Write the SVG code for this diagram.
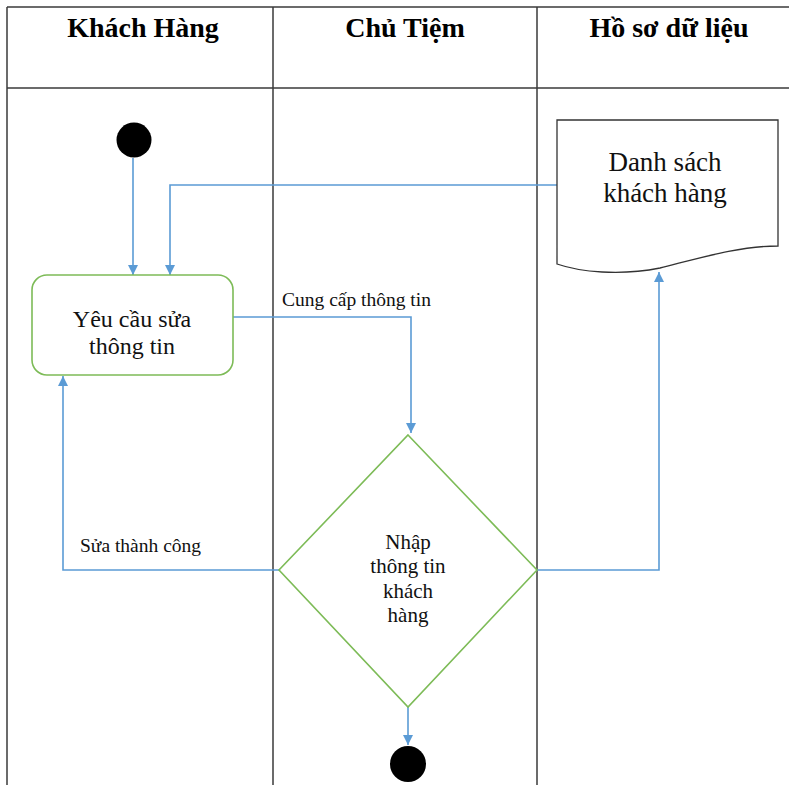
<svg xmlns="http://www.w3.org/2000/svg" width="789" height="785" viewBox="0 0 789 785">
<defs>
<style>
.lane{stroke:#3a3a3a;stroke-width:1.5;fill:none}
.hdr{font-family:"Liberation Serif",serif;font-weight:bold;font-size:28px;fill:#000;text-anchor:middle}
.lbl{font-family:"Liberation Serif",serif;font-size:24px;fill:#111;text-anchor:middle}
.dia{font-size:21px}
.doc{font-size:27px}
.small{font-family:"Liberation Serif",serif;font-size:19.5px;fill:#111}
.node{fill:#fff;stroke:#7dbb57;stroke-width:1.6}
.conn{fill:none;stroke:#5b9bd5;stroke-width:1.6}
</style>
<marker id="arr" viewBox="0 0 10 10" refX="10" refY="5" markerWidth="10" markerHeight="10" markerUnits="userSpaceOnUse" orient="auto">
<path d="M0,0 L10,5 L0,10 z" fill="#5b9bd5"/>
</marker>
</defs>
<rect width="789" height="785" fill="#fff"/>
<g id="swimlanes">
<line class="lane" x1="7" y1="7" x2="789" y2="7"/>
<line class="lane" x1="7" y1="88" x2="789" y2="88"/>
<line class="lane" x1="7" y1="7" x2="7" y2="785"/>
<line class="lane" x1="273" y1="7" x2="273" y2="785"/>
<line class="lane" x1="537" y1="7" x2="537" y2="785"/>
<text class="hdr" x="143" y="37">Khách Hàng</text>
<text class="hdr" x="405" y="37">Chủ Tiệm</text>
<text class="hdr" x="669" y="37">Hồ sơ dữ liệu</text>
</g>
<g id="connectors">
<path class="conn" d="M133,158 L133,275" marker-end="url(#arr)"/>
<path class="conn" d="M557,185 L170,185 L170,275" marker-end="url(#arr)"/>
<path class="conn" d="M233,317 L411,317 L411,433" marker-end="url(#arr)"/>
<path class="conn" d="M279,570 L63,570 L63,376" marker-end="url(#arr)"/>
<path class="conn" d="M537,570 L659,570 L659,272" marker-end="url(#arr)"/>
<path class="conn" d="M408,707 L408,745" marker-end="url(#arr)"/>
<text class="small" x="282" y="306">Cung cấp thông tin</text>
<text class="small" x="80" y="552">Sửa thành công</text>
</g>
<g id="start">
<circle cx="134" cy="140" r="17.5" fill="#000"/>
</g>
<g id="yeucau">
<rect class="node" x="32" y="275" width="201" height="100" rx="15"/>
<text class="lbl" x="132" y="327">Yêu cầu sửa</text>
<text class="lbl" x="132" y="354">thông tin</text>
</g>
<g id="nhap">
<path class="node" d="M408,435 L537,570 L408,707 L279,570 z"/>
<text class="lbl dia" x="408" y="549">Nhập</text>
<text class="lbl dia" x="408" y="573">thông tin</text>
<text class="lbl dia" x="408" y="598">khách</text>
<text class="lbl dia" x="408" y="622">hàng</text>
</g>
<g id="danhsach">
<path d="M557,120 L778,120 L778,246 C740,246 700,258 660,268 C620,276 580,272 557,264 z" fill="#fff" stroke="#333" stroke-width="1.3"/>
<text class="lbl doc" x="665" y="171">Danh sách</text>
<text class="lbl doc" x="665" y="202">khách hàng</text>
</g>
<g id="end">
<circle cx="408" cy="764" r="18" fill="#000"/>
</g>
</svg>
